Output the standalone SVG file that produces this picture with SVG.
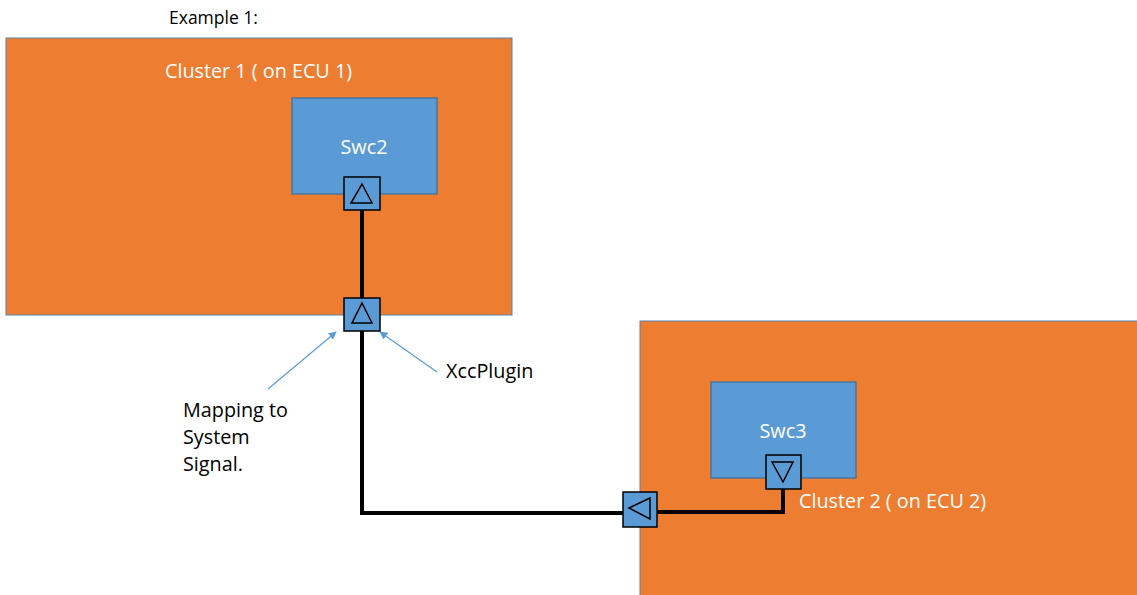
<svg xmlns="http://www.w3.org/2000/svg" width="1137" height="595" viewBox="0 0 1137 595">
<style>
.cluster{fill:#ED7D31;stroke:#5B82A8;stroke-width:1}
.swc{fill:#5B9BD5;stroke:#41719C;stroke-width:1.3}
.port{fill:#5B9BD5;stroke:#000;stroke-width:1.5}
.tri{fill:none;stroke:#000;stroke-width:1.5}
.wire{fill:none;stroke:#000;stroke-width:4}
.note{fill:none;stroke:#5B9BD5;stroke-width:1.2}
.wt{font-family:"Open Sans","Liberation Sans",sans-serif;font-size:19.8px;fill:#fff}
.bt{font-family:"Open Sans","Liberation Sans",sans-serif;font-size:19.8px;fill:#000}
</style>
<defs>
<marker id="ah" viewBox="0 0 10 10" refX="9" refY="5" markerWidth="8" markerHeight="8" orient="auto" markerUnits="userSpaceOnUse">
<path d="M0,0 L10,5 L0,10 z" fill="#5B9BD5"/>
</marker>
</defs>
<text class="bt" x="169" y="24" style="font-size:17.5px">Example 1:</text>
<g id="cluster1">
<rect class="cluster" x="6" y="38" width="506" height="277"/>
<text class="wt" x="258.5" y="78" text-anchor="middle">Cluster 1 ( on ECU 1)</text>
</g>
<g id="cluster2">
<rect class="cluster" x="640" y="321" width="500" height="280"/>
<text class="wt" x="799" y="508">Cluster 2 ( on ECU 2)</text>
</g>
<g id="swc2">
<rect class="swc" x="292" y="98" width="145" height="96"/>
<text class="wt" x="364" y="154" text-anchor="middle">Swc2</text>
</g>
<g id="swc3">
<rect class="swc" x="711" y="382" width="145" height="96"/>
<text class="wt" x="783" y="438" text-anchor="middle">Swc3</text>
</g>
<g id="connectors">
<path class="wire" d="M362,210 V298" stroke-width="3"/>
<path class="wire" d="M362,331 V513 H624"/>
<path class="wire" d="M657,512 H783 V489"/>
<line class="note" x1="268" y1="389" x2="336" y2="332" marker-end="url(#ah)"/>
<line class="note" x1="437" y1="372" x2="380" y2="332" marker-end="url(#ah)"/>
</g>
<g id="port-swc2">
<rect class="port" x="344" y="177" width="36" height="33"/>
<path class="tri" d="M362,184 L372,203 L351,203 Z"/>
</g>
<g id="port-xcc">
<rect class="port" x="344" y="298" width="36" height="33"/>
<path class="tri" d="M362,303 L372,323 L352,323 Z"/>
</g>
<g id="port-swc3">
<rect class="port" x="766" y="455" width="35" height="34"/>
<path class="tri" d="M772,462 L793,462 L783,482 Z"/>
</g>
<g id="port-cluster2">
<rect class="port" x="623" y="492" width="34" height="35"/>
<path class="tri" d="M629,508 L650,498 L650,519 Z"/>
</g>
<g id="labels">
<text class="bt" x="446" y="378">XccPlugin</text>
<text class="bt" x="183" y="417">Mapping to</text>
<text class="bt" x="183" y="444">System</text>
<text class="bt" x="183" y="471">Signal.</text>
</g>
</svg>
